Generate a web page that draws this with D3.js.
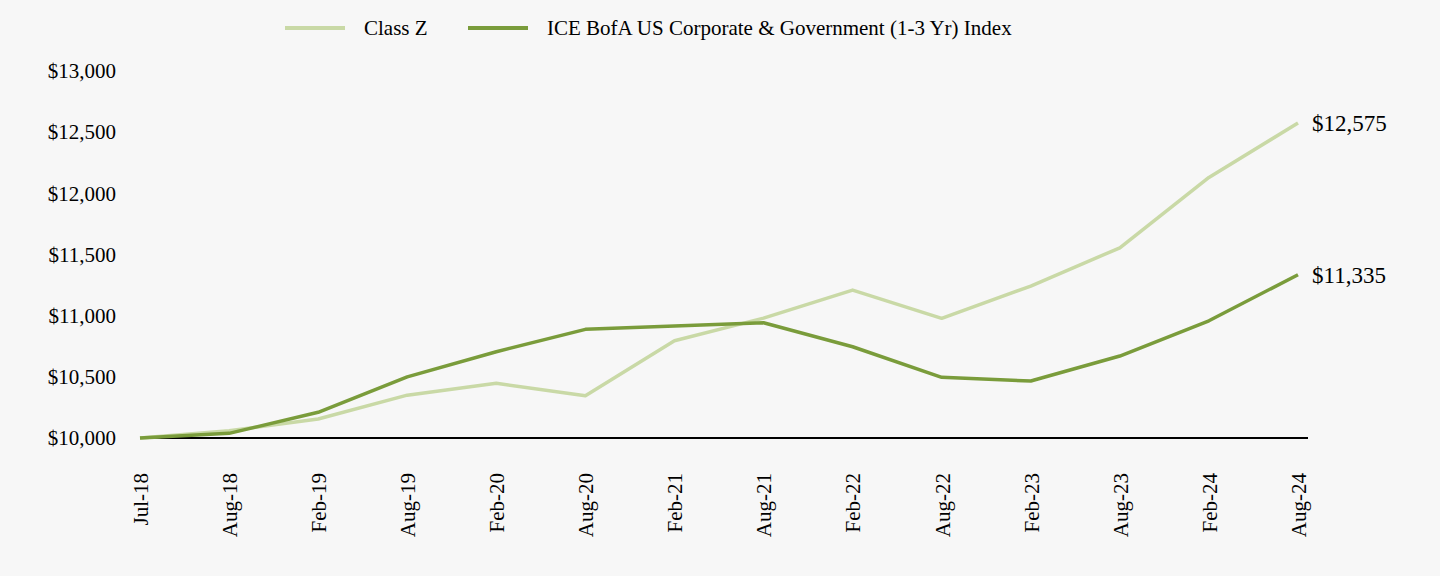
<!DOCTYPE html>
<html>
<head>
<meta charset="utf-8">
<script src="https://cdn.jsdelivr.net/npm/d3@7"></script>
<style>
  html, body { margin: 0; padding: 0; background: #f7f7f7; }
  svg { display: block; }
  text { font-family: "Liberation Serif", "Times New Roman", serif; fill: #000; }
</style>
</head>
<body>
<svg id="chart" width="1440" height="576"></svg>
<script>
const categories = ["Jul-18","Aug-18","Feb-19","Aug-19","Feb-20","Aug-20","Feb-21","Aug-21","Feb-22","Aug-22","Feb-23","Aug-23","Feb-24","Aug-24"];
const classZ = [10000,10060,10155,10350,10447,10346,10795,10980,11209,10978,11242,11555,12130,12575];
const indexVals = [10000,10038,10210,10500,10705,10888,10915,10942,10746,10496,10466,10670,10958,11335];
const yTicks = [10000,10500,11000,11500,12000,12500,13000];
const seriesNames = ["Class Z","ICE BofA US Corporate & Government (1-3 Yr) Index"];
const colors = ["#c9d9a6","#7a9c3b"];

const svg = d3.select("#chart");
svg.append("rect").attr("width",1440).attr("height",576).attr("fill","#f7f7f7");

const x = d3.scalePoint().domain(categories).range([140, 1298]);
const y = d3.scaleLinear().domain([10000, 13000]).range([438, 71]);
const fmt = v => "$" + d3.format(",")(v);

// Y axis labels
const yAxis = d3.axisLeft(y).tickValues(yTicks).tickFormat(fmt).tickSize(0).tickPadding(0);
const gy = svg.append("g").attr("transform","translate(116,0)").call(yAxis);
gy.select(".domain").remove();
gy.selectAll("text").style("font-family",'"Liberation Serif", serif').style("font-size","21px").attr("fill","#000");

// X axis labels (rotated)
const xAxis = d3.axisBottom(x).tickSize(0).tickPadding(0);
const gx = svg.append("g").attr("transform","translate(0,473)").call(xAxis);
gx.select(".domain").remove();
gx.selectAll("text")
  .style("font-family",'"Liberation Serif", serif').style("font-size","21px").attr("fill","#000")
  .attr("transform","rotate(-90)")
  .attr("text-anchor","end")
  .attr("x",0).attr("y",0).attr("dx",0).attr("dy","0.35em");

// Baseline
svg.append("line")
  .attr("x1", x(categories[0])).attr("x2", x(categories[categories.length-1]) + 10)
  .attr("y1", y(10000)).attr("y2", y(10000))
  .attr("stroke","#000").attr("stroke-width",2);

const line = d3.line().x((d,i)=>x(categories[i])).y(d=>y(d));
const series = [classZ, indexVals];
series.forEach((vals,i)=>{
  svg.append("path").datum(vals)
    .attr("d", line)
    .attr("fill","none")
    .attr("stroke", colors[i])
    .attr("stroke-width", 3.5)
    .attr("stroke-linejoin","round");
  const last = vals[vals.length-1];
  svg.append("text")
    .attr("x", x(categories[categories.length-1]) + 14)
    .attr("y", y(last))
    .attr("dy","0.35em")
    .style("font-size","23px")
    .text(fmt(last));
});

// Legend
const legendItems = [{x:285, tx:364},{x:468, tx:547}];
legendItems.forEach((p,i)=>{
  svg.append("line").attr("x1",p.x).attr("x2",p.x+60).attr("y1",28).attr("y2",28)
    .attr("stroke",colors[i]).attr("stroke-width",4);
  svg.append("text").attr("x",p.tx).attr("y",28).attr("dy","0.35em")
    .style("font-size","21px").text(seriesNames[i]);
});
</script>
</body>
</html>
